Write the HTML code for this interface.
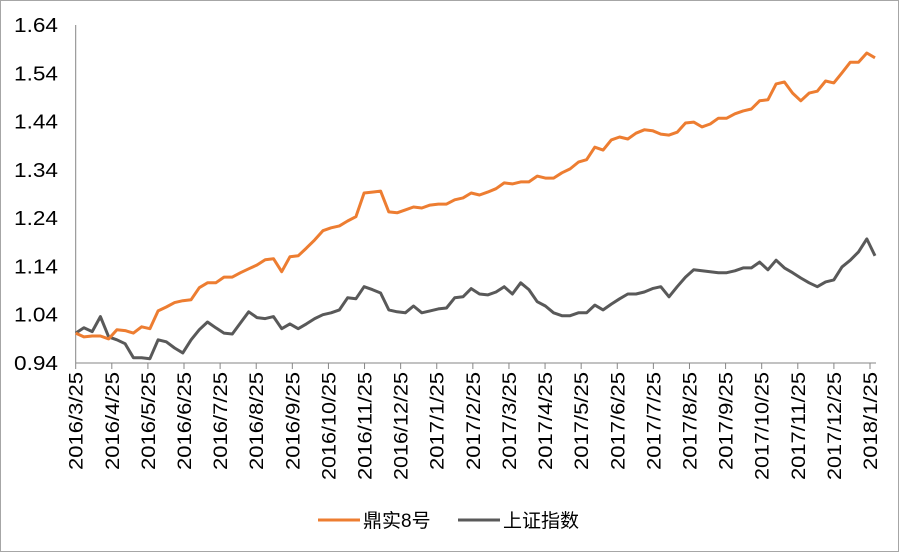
<!DOCTYPE html>
<html><head><meta charset="utf-8"><style>
body{margin:0;background:#fff}
svg{display:block;font-family:"Liberation Sans","Noto Sans CJK SC",sans-serif}
</style></head><body>
<svg id="chart" width="899" height="552">
<rect x="0.5" y="0.5" width="898" height="551" fill="#fff" stroke="#a6a6a6"/>
<g id="yaxis"></g>
<g id="xaxis"></g>
<g id="series"></g>
<g>
<g>
<line x1="318" y1="520" x2="360" y2="520" stroke="#ed7d31" stroke-width="3"/>
<text x="363" y="527" font-size="19" fill="#000">鼎实8号</text></g>
<g>
<line x1="458" y1="520" x2="500" y2="520" stroke="#595959" stroke-width="3"/>
<text x="503" y="527" font-size="19" fill="#000">上证指数</text></g>
</g>
</svg>
<script>
const xLabels=["2016/3/25","2016/4/25","2016/5/25","2016/6/25","2016/7/25","2016/8/25","2016/9/25","2016/10/25","2016/11/25","2016/12/25","2017/1/25","2017/2/25","2017/3/25","2017/4/25","2017/5/25","2017/6/25","2017/7/25","2017/8/25","2017/9/25","2017/10/25","2017/11/25","2017/12/25","2018/1/25"];
const yTicks=[0.94,1.04,1.14,1.24,1.34,1.44,1.54,1.64];
const fundSeries=[1.002,0.994,0.996,0.996,0.990,1.009,1.007,1.002,1.015,1.011,1.048,1.056,1.065,1.069,1.071,1.096,1.106,1.106,1.118,1.118,1.127,1.135,1.143,1.154,1.156,1.129,1.160,1.162,1.178,1.195,1.214,1.220,1.224,1.234,1.243,1.292,1.294,1.296,1.253,1.251,1.257,1.263,1.261,1.267,1.269,1.269,1.278,1.282,1.292,1.288,
1.294,1.301,1.313,1.311,1.315,1.315,1.327,1.323,1.323,1.334,1.342,1.356,1.361,1.387,1.381,1.402,1.408,1.404,1.416,1.423,1.421,1.414,1.412,1.418,1.437,1.439,1.429,1.435,1.447,1.447,1.456,1.462,1.466,1.483,1.485,1.518,1.522,1.499,1.483,1.499,1.503,1.524,1.520,1.541,1.563,1.563,1.582,1.572];
const indexSeries=[1.002,1.013,1.005,1.036,0.994,0.988,0.980,0.951,0.951,0.949,0.988,0.984,0.971,0.961,0.988,1.009,1.025,1.013,1.002,1.000,1.023,1.046,1.034,1.032,1.036,1.011,1.021,1.011,1.021,1.032,1.040,1.044,1.050,1.075,1.073,1.098,1.092,1.085,1.050,1.046,1.044,1.058,1.044,1.048,1.052,1.054,1.075,1.077,1.094,1.083,
1.081,1.087,1.098,1.083,1.106,1.092,1.067,1.058,1.044,1.038,1.038,1.044,1.044,1.060,1.050,1.062,1.073,1.083,1.083,1.087,1.094,1.098,1.077,1.098,1.118,1.133,1.131,1.129,1.127,1.127,1.131,1.137,1.137,1.149,1.133,1.153,1.137,1.127,1.116,1.106,1.098,1.108,1.112,1.139,1.153,1.170,1.197,1.162];

const NS="http://www.w3.org/2000/svg";
const L=75.7,R=875,T=25,B=363,yMin=0.94,yMax=1.64;
const ys=v=>B-(v-yMin)/(yMax-yMin)*(B-T);
const xs=i=>L+i*(R-L)/(fundSeries.length-1);
const xm=i=>L+i*(870-L)/(xLabels.length-1);
function mk(tag,attrs,parent){const e=document.createElementNS(NS,tag);for(const k in attrs)e.setAttribute(k,attrs[k]);parent.appendChild(e);return e;}
const yA=document.getElementById('yaxis'),xA=document.getElementById('xaxis'),sg=document.getElementById('series');
mk('line',{x1:L,y1:T,x2:L,y2:B,stroke:'#868686','stroke-width':1},yA);
mk('line',{x1:L,y1:B,x2:R+1,y2:B,stroke:'#868686','stroke-width':1},xA);
yTicks.forEach(v=>{
  const t=mk('text',{x:58,y:ys(v)+7,'text-anchor':'end','font-size':20,fill:'#000',textLength:44,lengthAdjust:'spacingAndGlyphs'},yA);
  t.textContent=v.toFixed(2);
  
  
});
xLabels.forEach((s,i)=>{
  const x=xm(i);
  mk('line',{x1:x,y1:B,x2:x,y2:B+6,stroke:'#868686'},xA);
  const len=s.length>=10?108:98;
  const t=mk('text',{x:0,y:0,'text-anchor':'end','font-size':19,fill:'#000',textLength:len,lengthAdjust:'spacingAndGlyphs',transform:`translate(${x+7},${B+9}) rotate(-90)`},xA);
  t.textContent=s;
  
  
});
function line(data,color,name){
  const p=mk('polyline',{points:data.map((v,i)=>xs(i).toFixed(1)+','+ys(v).toFixed(1)).join(' '),fill:'none',stroke:color,'stroke-width':3,'stroke-linejoin':'round'},sg);
  
  
}
line(indexSeries,'#595959','shanghai-index-line');
line(fundSeries,'#ed7d31','dingshi-8-line');
</script>
</body></html>
